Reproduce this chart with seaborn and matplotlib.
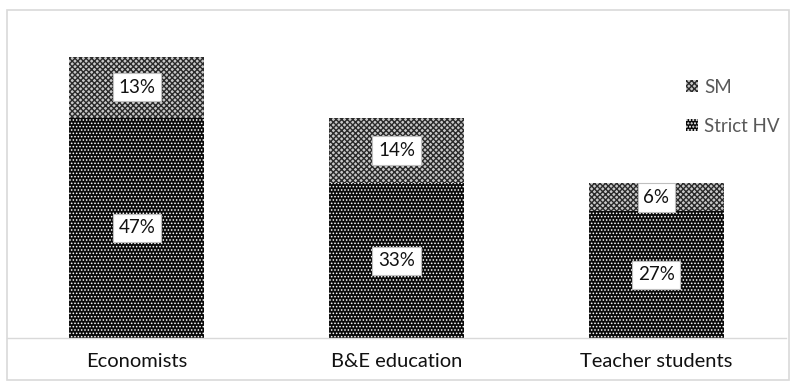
import numpy as np
import pandas as pd
import matplotlib
matplotlib.use("Agg")
import matplotlib.pyplot as plt
import seaborn as sns
from matplotlib.patches import Patch, Rectangle

groups = ["Economists", "B&E education", "Teacher students"]
strict_hv = [47, 33, 27]
sm = [13, 14, 6]

df = pd.DataFrame({"group": groups, "Strict HV": strict_hv, "SM": sm})
df["total"] = df["Strict HV"] + df["SM"]

sns.set_style("white")
plt.rcParams["font.family"] = ["Lato", "DejaVu Sans"]

SM_STYLE = dict(facecolor="#c8c8c8", edgecolor="#2a2a2a", hatch="xxxxxx")
HV_STYLE = dict(facecolor="#0a0a0a", edgecolor="#ffffff", hatch=".....")

fig = plt.figure(figsize=(8.02, 3.85), dpi=100)
ax = fig.add_axes([7 / 802, 47 / 385, 779 / 802, 328 / 385])

# SM on top (drawn as total), Strict HV below
sns.barplot(data=df, x="group", y="total", color="#9a9a9a", width=0.52,
            ax=ax, saturation=1)
n = len(ax.patches)
sns.barplot(data=df, x="group", y="Strict HV", color="#111111", width=0.52,
            ax=ax, saturation=1)

for i, p in enumerate(ax.patches):
    p.set_linewidth(0)
    style = SM_STYLE if i < n else HV_STYLE
    p.set_facecolor(style["facecolor"])
    p.set_edgecolor(style["edgecolor"])
    p.set_hatch(style["hatch"])
    p.set_hatch_linewidth(1.0 if i < n else 0.7)

box = dict(boxstyle="square,pad=0.3", facecolor="white", edgecolor="#bfbfbf", linewidth=0.8)
for i in range(len(groups)):
    ax.text(i, strict_hv[i] / 2, f"{strict_hv[i]}%", ha="center", va="center",
            fontsize=13.5, color="#111111", bbox=box)
    ax.text(i, strict_hv[i] + sm[i] / 2, f"{sm[i]}%", ha="center", va="center",
            fontsize=13.5, color="#111111", bbox=box)

ax.set_ylim(0, 70)
ax.set_xlim(-0.5, 2.5)
ax.set_xlabel("")
ax.set_ylabel("")
ax.set_yticks([])
for s in ["top", "left", "right"]:
    ax.spines[s].set_visible(False)
ax.spines["bottom"].set_color("#d9d9d9")
ax.spines["bottom"].set_linewidth(1)
ax.set_xticks([0, 1, 2])
ax.set_xticklabels(groups, fontsize=14.5, color="#111111")
ax.tick_params(axis="x", which="major", length=0, pad=11)
ax.set_xticks([0.5, 1.5, 2.5], minor=True)
ax.tick_params(axis="x", which="minor", length=7, color="#d9d9d9", width=1, direction="out")

handles = []
for lab, style in [("SM", SM_STYLE), ("Strict HV", HV_STYLE)]:
    h = Patch(linewidth=0, label=lab, **style)
    handles.append(h)
leg = ax.legend(handles=handles, loc="center left", bbox_to_anchor=(0.86, 0.705),
                frameon=False, fontsize=13.5, handlelength=0.6, handleheight=0.6,
                handletextpad=0.35, labelspacing=1.15, borderpad=0)
for t in leg.get_texts():
    t.set_color("#595959")

fig.patches.append(Rectangle((7 / 802, 5 / 385), 782 / 802, 370 / 385,
                             transform=fig.transFigure, fill=False,
                             edgecolor="#d9d9d9", linewidth=1.2))

fig.savefig("out.png", dpi=100)
